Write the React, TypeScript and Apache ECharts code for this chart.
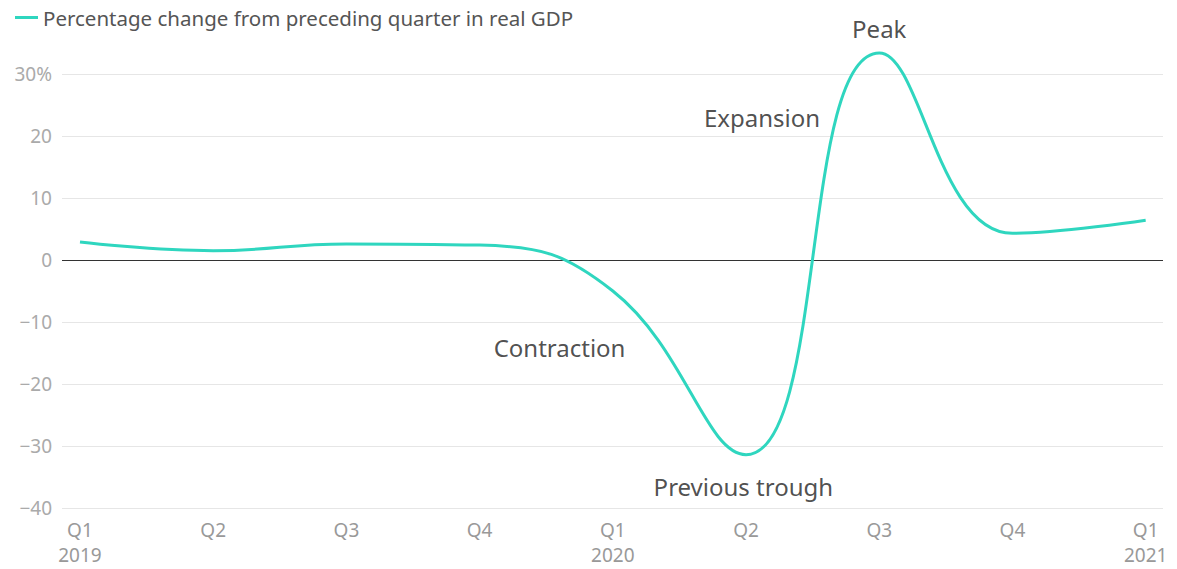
import React, { useEffect, useRef } from "react";
import * as echarts from "echarts";

const quarters = ["Q1\n2019", "Q2", "Q3", "Q4", "Q1\n2020", "Q2", "Q3", "Q4", "Q1\n2021"];
const gdpChange = [2.9, 1.5, 2.6, 2.4, -5.0, -31.4, 33.4, 4.3, 6.4];
const yTicks = [-40, -30, -20, -10, 0, 10, 20, 30];
const annotations = [
  { text: "Peak", x: 6.0, y: 37.4 },
  { text: "Expansion", x: 5.12, y: 23.0 },
  { text: "Contraction", x: 3.6, y: -14.1 },
  { text: "Previous trough", x: 4.98, y: -36.5 },
];
const seriesName = "Percentage change from preceding quarter in real GDP";

const FONT = "'Noto Sans', 'Open Sans', sans-serif";
const TEAL = "#2fd6bf";

export default function App() {
  const ref = useRef<HTMLDivElement>(null);
  useEffect(() => {
    if (!ref.current) return;
    const chart = echarts.init(ref.current, undefined, { renderer: "svg" });
    chart.setOption({
      animation: false,
      textStyle: { fontFamily: FONT },
      legend: {
        left: 10,
        top: 2,
        icon: "rect",
        itemWidth: 23,
        itemHeight: 3,
        itemGap: 8,
        textStyle: { fontSize: 20.5, color: "#555", fontFamily: FONT },
        data: [seriesName],
      },
      grid: { left: 62, right: 14, top: 74, bottom: 61, containLabel: false },
      xAxis: {
        type: "value",
        min: -0.135,
        max: 8.13,
        axisLine: { show: false },
        axisTick: { show: false },
        splitLine: { show: false },
        axisLabel: {
          customValues: quarters.map((_, i) => i),
          formatter: (v: number) => quarters[Math.round(v)] ?? "",
          color: "#999",
          fontSize: 19,
          lineHeight: 25,
          margin: 9,
          fontFamily: FONT,
        },
      },
      yAxis: {
        type: "value",
        min: -40,
        max: 30,
        interval: 10,
        axisLine: { show: false },
        axisTick: { show: false },
        splitLine: { lineStyle: { color: "#e6e6e6", width: 1 } },
        axisLabel: {
          color: "#aaa",
          fontSize: 19,
          margin: 10,
          fontFamily: FONT,
          formatter: (v: number) => {
            if (!yTicks.includes(v)) return "";
            if (v === 30) return "30%";
            return v < 0 ? "\u2212" + Math.abs(v) : String(v);
          },
        },
      },
      series: [
        {
          name: seriesName,
          type: "line",
          data: gdpChange.map((v, i) => [i, v]),
          smooth: 0.45,
          clip: false,
          showSymbol: false,
          symbol: "none",
          lineStyle: { color: TEAL, width: 3 },
          itemStyle: { color: TEAL },
          z: 3,
          markLine: {
            silent: true,
            symbol: "none",
            label: { show: false },
            lineStyle: { color: "#333", width: 1, type: "solid" },
            data: [{ yAxis: 0 }],
            z: 2,
          },
        },
        {
          type: "scatter",
          data: annotations.map((a) => ({ value: [a.x, a.y], name: a.text })),
          symbolSize: 0,
          silent: true,
          clip: false,
          label: {
            show: true,
            position: "inside",
            formatter: (p: any) => p.name,
            color: "#222",
            fontSize: 24,
            fontFamily: FONT,
          },
        },
      ],
    });
    return () => chart.dispose();
  }, []);
  return <div ref={ref} style={{ width: 1177, height: 569, position: "absolute", left: 0, top: 0 }} />;
}
